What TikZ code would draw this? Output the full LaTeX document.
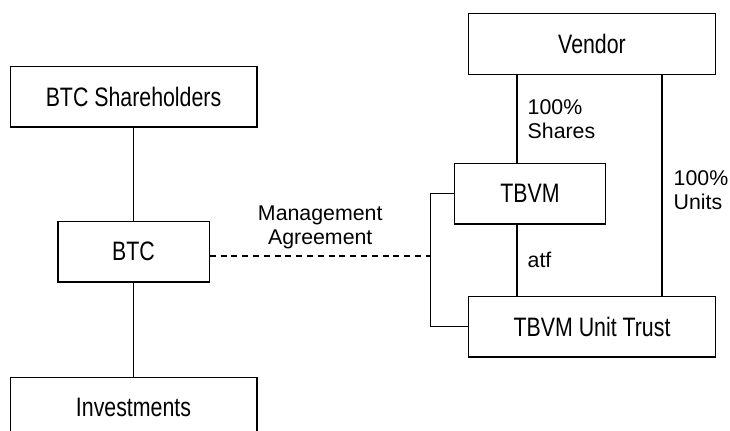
\documentclass[tikz,border=0pt]{standalone}
\usepackage{fontspec}
\setmainfont{Liberation Sans}
\newfontfamily\boxfont{Liberation Sans}[FakeStretch=0.8]
\usetikzlibrary{positioning}
\tikzset{
boxW/.style={rectangle,draw=black,minimum width=185pt,minimum height=45.5pt,font=\boxfont\fontsize{20}{24}\selectfont}
}
\tikzset{
boxN/.style={rectangle,draw=black,minimum width=113.5pt,minimum height=45.5pt,font=\boxfont\fontsize{20}{24}\selectfont}
}
\tikzset{
lbl/.style={font=\fontsize{16}{18}\selectfont,align=left,inner sep=0pt}
}
\begin{document}
\begin{tikzpicture}[x=0.75pt,y=-0.75pt,line width=1pt]
\useasboundingbox (0,0) rectangle (730,430);

\node[boxW] (Sh) at (133.5,96.5) {BTC Shareholders};
\node[boxN] (BTC) at (133.5,251.5) {BTC};
\node[boxW] (Inv) at (133.5,407.5) {Investments};
\draw (Sh) -- (BTC);
\draw (BTC) -- (Inv);
%------------------------------------------------------------------------------------------------------------%
\node[boxW] (Vendor) at (592,44) {Vendor};
\node[boxN] (TBVM) at (530,193.5) {TBVM};
\node[boxW] (Trust) at (592,326.5) {TBVM Unit Trust};
\coordinate (s1) at ([xshift=-9.75pt]TBVM.north);
\coordinate (s2) at ([xshift=-9.75pt]TBVM.south);
\coordinate (u1) at ([xshift=52.5pt]Vendor.south);
\draw (Vendor.south -| s1) -- node[lbl,right=7.5pt]{100\%\\Shares} (s1);
\draw (s2) -- node[lbl,right=7.5pt]{atf} (s2 |- Trust.north);
\draw (u1) -- node[lbl,right=8.25pt,pos=0.52]{100\%\\Units} (u1 |- Trust.north);
%------------------------------------------------------------------------------------------------------------%
\draw (TBVM.west) -- ++(-23,0) coordinate (brk) |- (Trust.west);
\draw[dash pattern=on 4.5pt off 3.6pt] ([yshift=-3.4pt]BTC.east) -- node[lbl,align=center,above=4.9pt]{Management\\Agreement} ([yshift=-3.4pt]BTC.east -| brk);

\end{tikzpicture}
\end{document}
